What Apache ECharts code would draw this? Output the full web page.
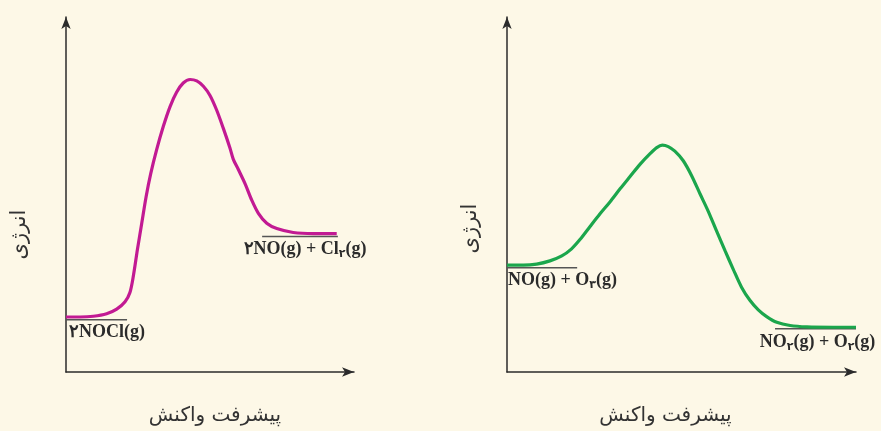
<!DOCTYPE html>
<html>
<head>
<meta charset="utf-8">
<script src="https://cdn.jsdelivr.net/npm/echarts@6/dist/echarts.min.js"></script>
<style>
html, body { margin: 0; padding: 0; background: #fdf8e7; }
#chart { width: 881px; height: 431px; }
</style>
</head>
<body>
<div id="chart"></div>
<script>
// left diagram: 2NOCl(g) -> 2NO(g) + Cl2(g)
const leftX = [0, 4.9, 9.5, 14.1, 17.6, 20.5, 22.2, 23.4, 24.8, 26.3, 27.8, 29.4, 31.5, 33.8, 36.1, 38.4, 40.7, 43.1, 45.4, 47.7, 50.0, 52.3, 54.6, 56.9, 58.1, 59.8, 62.2, 64.5, 66.8, 69.7, 73.2, 78.9, 85.9, 94.0]
const leftY = [15.5, 15.5, 15.7, 16.4, 17.7, 19.8, 22.4, 27.1, 34.5, 41.9, 49.3, 55.8, 62.7, 69.2, 74.7, 78.8, 81.4, 82.4, 82.0, 80.5, 77.9, 73.8, 68.7, 63.2, 59.9, 57.1, 53.0, 48.4, 44.7, 41.9, 40.4, 39.3, 39.0, 39.0]
// right diagram: NO(g) + O3(g) -> NO2(g) + O2(g)
const rightX = [0, 4.7, 8.5, 12.3, 15.7, 18.5, 20.9, 23.8, 26.6, 29.5, 32.4, 35.2, 38.1, 41.0, 42.9, 44.5, 46.2, 48.1, 50.5, 52.9, 55.3, 57.7, 60.1, 62.5, 64.8, 67.2, 69.6, 72.0, 74.4, 77.3, 81.1, 85.9, 93.5, 100]
const rightY = [30.1, 30.1, 30.4, 31.3, 32.7, 34.7, 37.3, 41.0, 44.5, 47.9, 51.6, 55.0, 58.5, 61.5, 63.2, 63.9, 63.5, 62.2, 59.5, 55.3, 50.2, 45.2, 39.6, 34.1, 29.0, 23.9, 20.2, 17.5, 15.6, 14.0, 13.1, 12.7, 12.6, 12.6]
// level lines: [xStart, xEnd, energy]
const leftReactant = [0, 21.2, 14.7]
const leftProduct = [68.1, 94.4, 38.2]
const rightReactant = [0, 20.1, 29.4]
const rightProduct = [76.8, 100, 12.2]
const labels = [
    '{b|۲NOCl(g)}',
    '{b|۲NO(g) + Cl}{s|۲}{b|(g)}',
    '{b|NO(g) + O}{s|۳}{b|(g)}',
    '{b|NO}{s|۲}{b|(g) + O}{s|۲}{b|(g)}'
]
const xName = 'پیشرفت واکنش'
const yName = 'انرژی'

const chart = echarts.init(document.getElementById('chart'))

const zip = (xs, ys) => xs.map((x, i) => [x, ys[i]])
const level = l => [[l[0], l[2]], [l[1], l[2]]]

const axisColor = '#2b2b2b'
const persianFont = '"DejaVu Sans", sans-serif'

function xAxis (idx, pad) {
    return {
        type: 'value',
        gridIndex: idx,
        min: 0,
        max: 100,
        name: xName,
        nameLocation: 'middle',
        nameGap: 34,
        nameTextStyle: { color: '#333', fontSize: 20, fontFamily: persianFont, padding: pad },
        axisLine: { lineStyle: { color: axisColor, width: 1.5 }, symbol: ['none', 'arrow'], symbolSize: [7, 12] },
        axisTick: { show: false },
        axisLabel: { show: false },
        splitLine: { show: false }
    }
}
function yAxis (idx, gap, pad) {
    return {
        type: 'value',
        gridIndex: idx,
        min: 0,
        max: 100,
        name: yName,
        nameLocation: 'middle',
        nameRotate: 90,
        nameGap: gap,
        nameTextStyle: { color: '#333', fontSize: 21, fontFamily: persianFont, padding: pad },
        axisLine: { lineStyle: { color: axisColor, width: 1.5 }, symbol: ['none', 'arrow'], symbolSize: [7, 12] },
        axisTick: { show: false },
        axisLabel: { show: false },
        splitLine: { show: false }
    }
}
function curve (idx, data, color) {
    return {
        type: 'line',
        xAxisIndex: idx,
        yAxisIndex: idx,
        data: data,
        smooth: 0.3,
        showSymbol: false,
        lineStyle: { color: color, width: 3.2 },
        z: 3
    }
}
function levelLine (idx, data) {
    return {
        type: 'line',
        xAxisIndex: idx,
        yAxisIndex: idx,
        data: data,
        showSymbol: false,
        lineStyle: { color: '#555', width: 1.5 },
        z: 2
    }
}

chart.setOption({
    backgroundColor: '#fdf8e7',
    animation: false,
    grid: [
        { left: 66, top: 17, width: 288, height: 361 },
        { left: 507, top: 17, width: 349, height: 361 }
    ],
    xAxis: [xAxis(0, [0, 0, 0, 10]), xAxis(1, [0, 32, 0, 0])],
    yAxis: [yAxis(0, 36, [0, 80, 0, 0]), yAxis(1, 26, [0, 68, 0, 0])],
    series: [
        curve(0, zip(leftX, leftY), '#c21a93'),
        curve(1, zip(rightX, rightY), '#1ba64c'),
        levelLine(0, level(leftReactant)),
        levelLine(0, level(leftProduct)),
        levelLine(1, level(rightReactant)),
        levelLine(1, level(rightProduct))
    ]
})

// species labels hang under their level lines
const rich = {
    b: { fontSize: 18, fontWeight: 'bold', fontFamily: '"Liberation Serif", "DejaVu Serif", serif', fill: '#2b2b2b', lineHeight: 20 },
    s: { fontSize: 11, fontWeight: 'bold', fontFamily: '"DejaVu Sans", serif', fill: '#2b2b2b', lineHeight: 20, verticalAlign: 'bottom', padding: [6, 0, 0, 0] }
}
const anchors = [
    { grid: 0, pt: [leftReactant[0], leftReactant[2]], dx: 3, dy: 13, align: 'left' },
    { grid: 0, pt: [(leftProduct[0] + leftProduct[1]) / 2, leftProduct[2]], dx: 5, dy: 13, align: 'center' },
    { grid: 1, pt: [rightReactant[0], rightReactant[2]], dx: 1, dy: 13, align: 'left' },
    { grid: 1, pt: [(rightProduct[0] + rightProduct[1]) / 2, rightProduct[2]], dx: 2, dy: 14, align: 'center' }
]
chart.setOption({
    graphic: anchors.map((a, i) => {
        const p = chart.convertToPixel({ gridIndex: a.grid }, a.pt)
        return {
            type: 'text',
            x: p[0] + a.dx,
            y: p[1] + a.dy,
            style: { text: labels[i], rich: rich, align: a.align, verticalAlign: 'middle' }
        }
    })
})
</script>
</body>
</html>
